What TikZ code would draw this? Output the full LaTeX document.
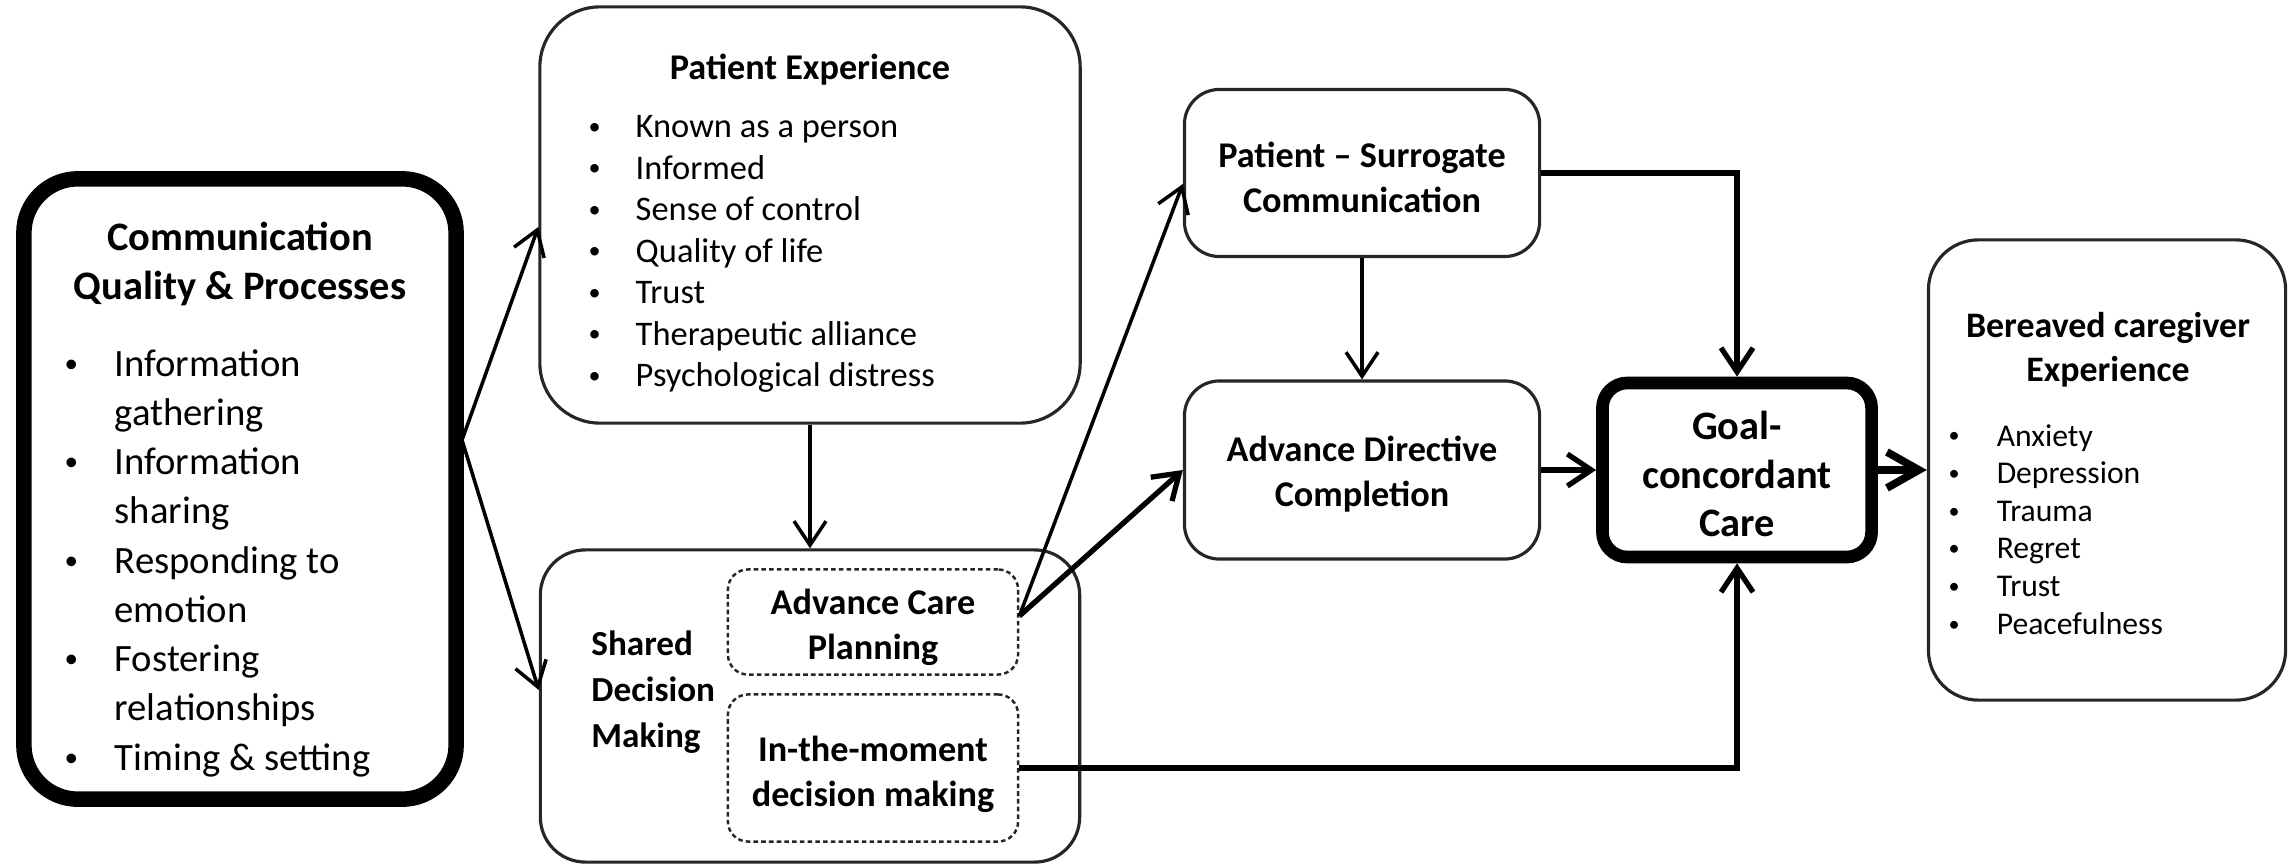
\documentclass[tikz,border=0pt]{standalone}
\usepackage{fontspec}
\setmainfont{Carlito}
\usetikzlibrary{arrows.meta, positioning}
\newcommand{\lbul}{\raisebox{0.1em}{\scalebox{0.7}{•}}}

\begin{document}
\begin{tikzpicture}[
    x=0.01cm, y=-0.01cm,
    box/.style={rectangle, draw=black!85, line width=0.9pt, rounded corners=#1, inner sep=0pt},
    box/.default=3.5mm,
    thickbox/.style={box=#1, draw=black, line width=3.6pt},
    thickbox/.default=2.5mm,
    dashbox/.style={box=2mm, line width=0.7pt, dash pattern=on 1.3pt off 0.9pt},
    headtxt/.style={font=\bfseries\fontsize{10.3}{12.8}\selectfont, align=center},
    listtxt/.style={anchor=north west, inner sep=0pt, align=left},
    arrow/.style={-{Straight Barb[length=2.4mm, width=3.2mm]}, line width=1pt},
    thickarrow/.style={arrow, line width=1.5pt}
]
\useasboundingbox (0,0) rectangle (2292,864);

% Communication Quality & Processes
\node[thickbox=5.4mm, line width=4.4pt, minimum width=4.32cm, minimum height=6.20cm] (comm) at (240,489) {};
\node[font=\bfseries\fontsize{11.5}{14}\selectfont, align=center] (commtitle) at (240,264) {Communication\\Quality \& Processes};
\node[listtxt, font=\fontsize{11}{14}\selectfont] (commlist) at (64,341) {\begin{tabular}{@{}p{5mm}@{}l@{}}
\lbul & Information\\ & gathering\\
\lbul & Information\\ & sharing\\
\lbul & Responding to\\ & emotion\\
\lbul & Fostering\\ & relationships\\
\lbul & Timing \& setting
\end{tabular}};

% Patient Experience
\node[box=6mm, minimum width=5.40cm, minimum height=4.16cm] (pe) at (810,215) {};
\node[headtxt] (petitle) at (810,70) {Patient Experience};
\node[listtxt, font=\fontsize{9.8}{11.8}\selectfont] (pelist) at (588,108) {\begin{tabular}{@{}p{4.7mm}@{}l@{}}
\lbul & Known as a person\\
\lbul & Informed\\
\lbul & Sense of control\\
\lbul & Quality of life\\
\lbul & Trust\\
\lbul & Therapeutic alliance\\
\lbul & Psychological distress
\end{tabular}};

% Shared Decision Making
\node[box=4.5mm, minimum width=5.39cm, minimum height=3.12cm] (sdm) at (810,706) {};
\node[headtxt, anchor=west, align=left, font=\bfseries\fontsize{10}{13}\selectfont] (sdmtitle) at (579,692) {Shared\\Decision\\Making};
\node[dashbox, minimum width=2.90cm, minimum height=1.05cm] (acp) at (873,622) {};
\node[headtxt] (acptxt) at ([yshift=-0.5mm]acp.center) {Advance Care\\Planning};
\node[dashbox, minimum width=2.90cm, minimum height=1.47cm] (itm) at (873,768) {};
\node[headtxt] (itmtxt) at ([yshift=-0.6mm]itm.center) {In-the-moment\\decision making};

% Middle column
\node[box, minimum width=3.55cm, minimum height=1.67cm] (psc) at (1362,173) {};
\node[headtxt] (psctxt) at ([yshift=-0.4mm]psc.center) {Patient -- Surrogate\\Communication};
\node[box, minimum width=3.55cm, minimum height=1.78cm] (adc) at (1362,470) {};
\node[headtxt] (adctxt) at ([yshift=-0.4mm]adc.center) {Advance Directive\\Completion};

% Goal-concordant Care
\node[thickbox, minimum width=2.69cm, minimum height=1.74cm] (goal) at (1737,470) {};
\node[font=\bfseries\fontsize{11.5}{13.8}\selectfont, align=center] (goaltxt) at ([yshift=-0.4mm]goal.center) {Goal-\\concordant\\Care};

% Bereaved caregiver Experience
\node[box=5mm, minimum width=3.57cm, minimum height=4.60cm] (bc) at (2107,470) {};
\node[headtxt, font=\bfseries\fontsize{10.2}{12.5}\selectfont] (bctitle) at (2108,350) {Bereaved caregiver\\Experience};
\node[listtxt, font=\fontsize{9}{10.7}\selectfont] (bclist) at (1948,419) {\begin{tabular}{@{}p{4.8mm}@{}l@{}}
\lbul & Anxiety\\
\lbul & Depression\\
\lbul & Trauma\\
\lbul & Regret\\
\lbul & Trust\\
\lbul & Peacefulness
\end{tabular}};

% Arrows
\coordinate (cq) at (462,440);
\coordinate (acpout) at ([yshift=0.6mm]acp.east);
\draw[arrow] (cq) -- ([yshift=-1.2mm]pe.west);
\draw[arrow] (cq) -- ([yshift=1.6mm]sdm.west);
\draw[arrow] (pe) -- (sdm);
\draw[arrow] (acpout) -- ([yshift=-1.1mm]psc.west);
\draw[thickarrow] (acpout) -- (adc.west);
\draw[arrow] (psc) -- (adc);
\draw[thickarrow] (psc.east) -| (goal.north);
\draw[thickarrow] (adc) -- (goal);
\draw[thickarrow] (itm.east) -| (goal.south);
\draw[arrow, line width=2.2pt, -{Straight Barb[length=3.2mm, width=3.6mm]}] (goal) -- (bc);

\end{tikzpicture}
\end{document}
